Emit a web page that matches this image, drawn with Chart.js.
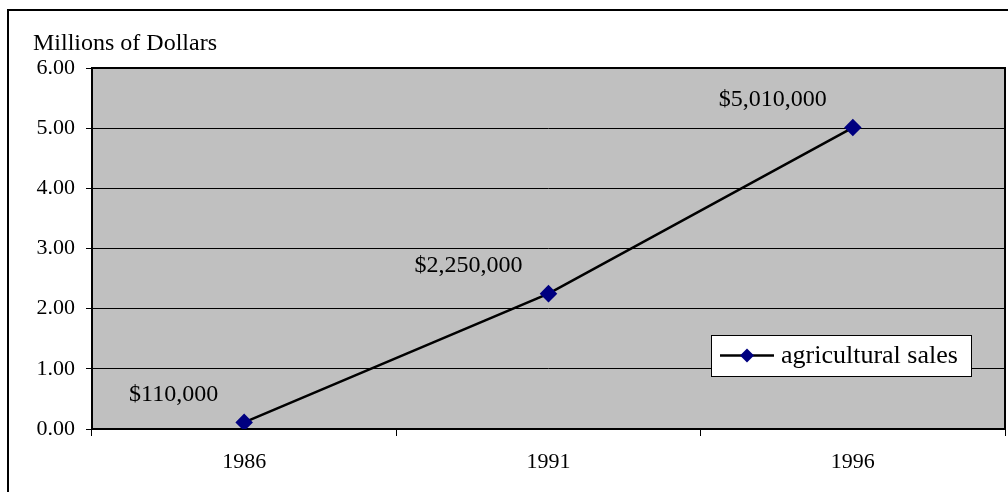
<!DOCTYPE html>
<html>
<head>
<meta charset="utf-8">
<script src="https://cdn.jsdelivr.net/npm/chart.js@4/dist/chart.umd.min.js"></script>
<style>
  html, body { margin: 0; padding: 0; background: #ffffff; }
  canvas { display: block; }
</style>
</head>
<body>
<canvas id="c" width="1008" height="492"></canvas>
<script>
const categories = ['1986', '1991', '1996'];
const salesMillions = [0.11, 2.25, 5.01];
const seriesName = 'agricultural sales';
const axisTitle = 'Millions of Dollars';
const yMin = 0, yMax = 6, yStep = 1;

const FONT = '"Liberation Serif", "Times New Roman", serif';

function money(v) {
  return '$' + Math.round(v * 1e6).toLocaleString('en-US');
}

const decor = {
  id: 'decor',
  beforeDraw(chart) {
    const ctx = chart.ctx, a = chart.chartArea;
    ctx.save();
    ctx.fillStyle = '#ffffff';
    ctx.fillRect(0, 0, chart.width, chart.height);
    ctx.strokeStyle = '#000';
    ctx.lineWidth = 2;
    ctx.beginPath();
    ctx.moveTo(8, chart.height + 5);
    ctx.lineTo(8, 10);
    ctx.lineTo(chart.width + 5, 10);
    ctx.stroke();
    ctx.fillStyle = '#C0C0C0';
    ctx.fillRect(a.left, a.top, a.right - a.left, a.bottom - a.top);
    ctx.fillStyle = '#000';
    ctx.font = '24px ' + FONT;
    ctx.textAlign = 'left';
    ctx.textBaseline = 'alphabetic';
    ctx.fillText(axisTitle, 33, 50);
    ctx.restore();
  },
  beforeDatasetsDraw(chart) {
    const ctx = chart.ctx, a = chart.chartArea;
    ctx.save();
    ctx.strokeStyle = '#000';
    ctx.lineWidth = 2;
    ctx.strokeRect(a.left, a.top, a.right - a.left, a.bottom - a.top);
    ctx.restore();
  },
  afterDatasetsDraw(chart) {
    const ctx = chart.ctx, a = chart.chartArea;
    const meta = chart.getDatasetMeta(0);
    ctx.save();
    ctx.fillStyle = '#000';
    ctx.font = '24px ' + FONT;
    ctx.textAlign = 'right';
    ctx.textBaseline = 'middle';
    meta.data.forEach((pt, i) => {
      ctx.fillText(money(salesMillions[i]), pt.x - 26, pt.y - 28);
    });
    const bx = a.right - 294, by = a.top + 267, bw = 260, bh = 41;
    ctx.fillStyle = '#fff';
    ctx.fillRect(bx, by, bw, bh);
    ctx.strokeStyle = '#000';
    ctx.lineWidth = 1;
    ctx.strokeRect(bx + 0.5, by + 0.5, bw, bh);
    const cy = by + bh / 2;
    ctx.lineWidth = 2.5;
    ctx.beginPath();
    ctx.moveTo(bx + 9, cy);
    ctx.lineTo(bx + 63, cy);
    ctx.stroke();
    ctx.fillStyle = '#000080';
    const r = 7;
    ctx.beginPath();
    ctx.moveTo(bx + 36, cy - r);
    ctx.lineTo(bx + 36 + r, cy);
    ctx.lineTo(bx + 36, cy + r);
    ctx.lineTo(bx + 36 - r, cy);
    ctx.closePath();
    ctx.fill();
    ctx.fillStyle = '#000';
    ctx.font = '26px ' + FONT;
    ctx.textAlign = 'left';
    ctx.textBaseline = 'middle';
    ctx.fillText(seriesName, bx + 70, cy + 1);
    ctx.restore();
  }
};

new Chart(document.getElementById('c'), {
  type: 'line',
  data: {
    labels: categories,
    datasets: [{
      label: seriesName,
      data: salesMillions,
      borderColor: '#000',
      borderWidth: 2.5,
      backgroundColor: '#000080',
      pointBackgroundColor: '#000080',
      pointBorderColor: '#000080',
      pointStyle: 'rectRot',
      pointRadius: 7,
      pointHoverRadius: 7,
      tension: 0,
      fill: false
    }]
  },
  options: {
    responsive: false,
    animation: false,
    events: [],
    layout: { autoPadding: false, padding: { top: 68, right: 3, bottom: 0, left: 0 } },
    plugins: { legend: { display: false }, tooltip: { enabled: false } },
    scales: {
      x: {
        offset: true,
        grid: { display: true, drawOnChartArea: false, drawTicks: true, offset: true, tickLength: 7, color: '#000', lineWidth: 1 },
        border: { display: false },
        ticks: { color: '#000', font: { family: FONT, size: 22 }, padding: 13, maxRotation: 0 },
        afterFit(s) { s.height = 63; }
      },
      y: {
        min: yMin, max: yMax,
        grid: { color: '#000', lineWidth: 1, tickLength: 6, drawTicks: true },
        border: { display: false },
        ticks: {
          stepSize: yStep,
          color: '#000',
          font: { family: FONT, size: 22 },
          padding: 11,
          callback: v => Number(v).toFixed(2)
        },
        afterFit(s) { s.width = 92; }
      }
    }
  },
  plugins: [decor]
});
</script>
</body>
</html>
